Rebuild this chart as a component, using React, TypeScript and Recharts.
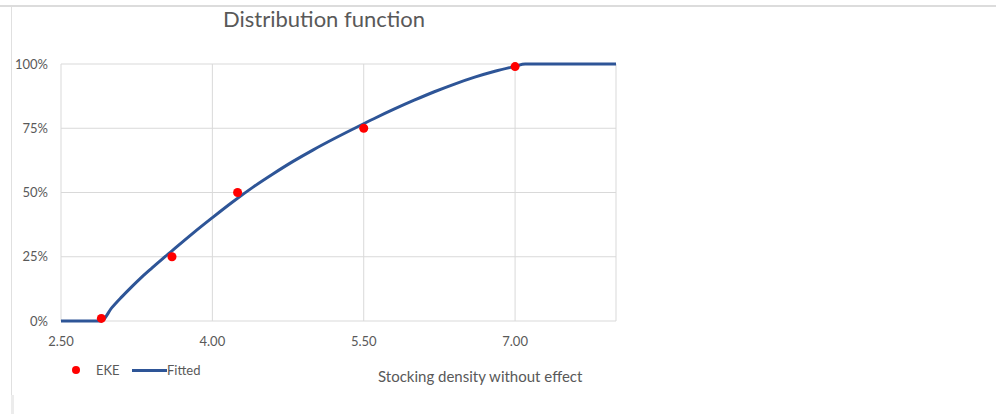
import React from "react";
import { ComposedChart, Line, Scatter, XAxis, YAxis, CartesianGrid } from "recharts";

// expert estimates (EKE)
const ekeX = [2.9, 3.6, 4.25, 5.5, 7.0];
const ekeY = [0.01, 0.25, 0.5, 0.75, 0.99];

// fitted distribution
const fittedX = [2.5, 2.9, 3.0, 3.1, 3.2, 3.3, 3.4, 3.5, 3.6, 3.8, 4.0, 4.2, 4.4, 4.6, 4.8, 5.0, 5.2, 5.4, 5.6, 5.8, 6.0, 6.2, 6.4, 6.6, 6.8, 7.0, 7.1, 8.0];
const fittedY = [0, 0, 0.05, 0.093, 0.133, 0.171, 0.206, 0.24, 0.273, 0.339, 0.402, 0.463, 0.52, 0.572, 0.621, 0.666, 0.708, 0.748, 0.787, 0.824, 0.859, 0.892, 0.922, 0.949, 0.972, 0.991, 1.0, 1.0];

const xTicks = [2.5, 4.0, 5.5, 7.0];
const yTicks = [0, 0.25, 0.5, 0.75, 1];

const FONT = "Lato, 'Open Sans', sans-serif";
const TEXT = "#595959";

export default function App() {
  const eke = ekeX.map((x, i) => ({ x, y: ekeY[i] }));
  const fitted = fittedX.map((x, i) => ({ x, y: fittedY[i] }));

  return (
    <div style={{ position: "absolute", left: 0, top: 0, width: 996, height: 414, background: "#fff", overflow: "hidden", fontFamily: FONT }}>
      <div style={{ position: "absolute", left: 0, top: 5, width: 996, height: 2, background: "#dcdcdc" }} />
      <div style={{ position: "absolute", left: 11, top: 7, width: 1, height: 388, background: "#e0e0e0" }} />
      <div style={{ position: "absolute", left: 11, top: 395, width: 3, height: 19, background: "#ececec" }} />

      <div style={{ position: "absolute", left: 223, top: 4, fontSize: 22, color: TEXT, whiteSpace: "nowrap", lineHeight: "30px" }}>
        Distribution function
      </div>

      <ComposedChart width={996} height={414} margin={{ top: 64, right: 380, bottom: 63, left: 11 }}>
        <CartesianGrid stroke="#d9d9d9" strokeWidth={1} />
        <XAxis
          dataKey="x"
          type="number"
          domain={[2.5, 8.0]}
          ticks={xTicks}
          allowDataOverflow
          height={30}
          tickLine={false}
          axisLine={false}
          tickMargin={10}
          tickFormatter={(v) => Number(v).toFixed(2)}
          tick={{ fill: TEXT, fontSize: 13, fontFamily: FONT }}
        />
        <YAxis
          dataKey="y"
          type="number"
          domain={[0, 1]}
          ticks={yTicks}
          width={50}
          tickLine={false}
          axisLine={false}
          tickMargin={7}
          tickFormatter={(v) => `${Math.round(Number(v) * 100)}%`}
          tick={{ fill: TEXT, fontSize: 13, fontFamily: FONT }}
        />
        <Line
          data={fitted}
          dataKey="y"
          type="monotone"
          stroke="#2e5597"
          strokeWidth={3}
          dot={false}
          isAnimationActive={false}
        />
        <Scatter data={eke} dataKey="y" fill="#ff0000" isAnimationActive={false} />
      </ComposedChart>

      <div style={{ position: "absolute", left: 72, top: 366, width: 8, height: 8, borderRadius: 4, background: "#ff0000" }} />
      <div style={{ position: "absolute", left: 96, top: 361, fontSize: 13, color: TEXT, lineHeight: "18px" }}>EKE</div>
      <div style={{ position: "absolute", left: 132, top: 368.5, width: 35, height: 3, background: "#2e5597" }} />
      <div style={{ position: "absolute", left: 167, top: 361, fontSize: 13, color: TEXT, lineHeight: "18px" }}>Fitted</div>

      <div style={{ position: "absolute", left: 378, top: 366, fontSize: 15, color: TEXT, whiteSpace: "nowrap", lineHeight: "20px" }}>
        Stocking density without effect
      </div>
    </div>
  );
}
